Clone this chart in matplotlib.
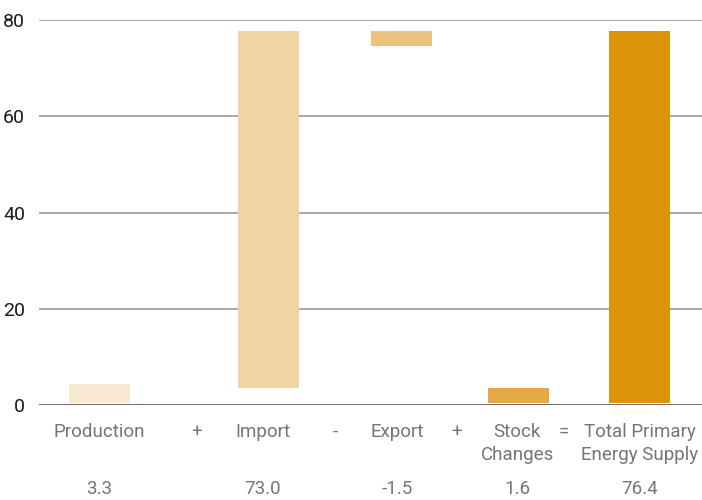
import matplotlib
matplotlib.use("Agg")
import matplotlib.pyplot as plt
from matplotlib.transforms import blended_transform_factory

plt.rcParams['font.family'] = ['Roboto', 'DejaVu Sans']

# Data
categories = ["Production", "Import", "Export", "Stock\nChanges", "Total Primary\nEnergy Supply"]
value_labels = ["3.3", "73.0", "-1.5", "1.6", "76.4"]
bar_bottoms = [0.5, 3.6, 74.5, 0.5, 0.5]
bar_tops = [4.4, 77.7, 77.7, 3.5, 77.7]
operators = ["+", "-", "+", "="]
bar_colors = ["#F8E8D1", "#F0D4A4", "#ECC27C", "#E4A944", "#DC9408"]
yticks = [0, 20, 40, 60, 80]

# Layout (pixel-based horizontal positions)
bar_pos = [99.5, 268.5, 401.5, 518.5, 639.5]
label_pos = [99.5, 263, 397, 517, 640]
op_pos = [197, 335, 457, 564]
bar_width = 61

W, H = 702, 500
fig = plt.figure(figsize=(W / 100, H / 100), dpi=100)
ax_left = 39 / W
ax = fig.add_axes([ax_left, (H - 405) / H, 1 - ax_left, 385 / H])
ax.set_xlim(39, 702)
ax.set_ylim(0, 80)

heights = [t - b for t, b in zip(bar_tops, bar_bottoms)]
ax.bar(bar_pos, heights, bottom=bar_bottoms, width=bar_width, color=bar_colors, zorder=3)

for y in yticks[1:]:
    ax.axhline(y, color="#9a9a9a", lw=1.2, zorder=1)
ax.axhline(0, color="#6f6f6f", lw=2.2, zorder=4)

for s in ax.spines.values():
    s.set_visible(False)
ax.set_xticks([])
ax.set_yticks(yticks)
ax.set_yticklabels([str(v) for v in yticks], fontsize=14, color="#1a1a1a")
ax.tick_params(axis="y", length=0, pad=10)

trans = blended_transform_factory(ax.transData, fig.transFigure)
gray = "#757575"
for x, lab in zip(label_pos, categories):
    ax.text(x, 1 - 423 / H, lab, transform=trans, ha="center", va="top",
            fontsize=13.5, color=gray, linespacing=1.33)
for x, op in zip(op_pos, operators):
    ax.text(x, 1 - 423 / H, op, transform=trans, ha="center", va="top",
            fontsize=13.5, color=gray)
for x, v in zip(label_pos, value_labels):
    ax.text(x, 1 - 489 / H, v, transform=trans, ha="center", va="center",
            fontsize=13.5, color=gray)

fig.savefig("out.png", dpi=100)
